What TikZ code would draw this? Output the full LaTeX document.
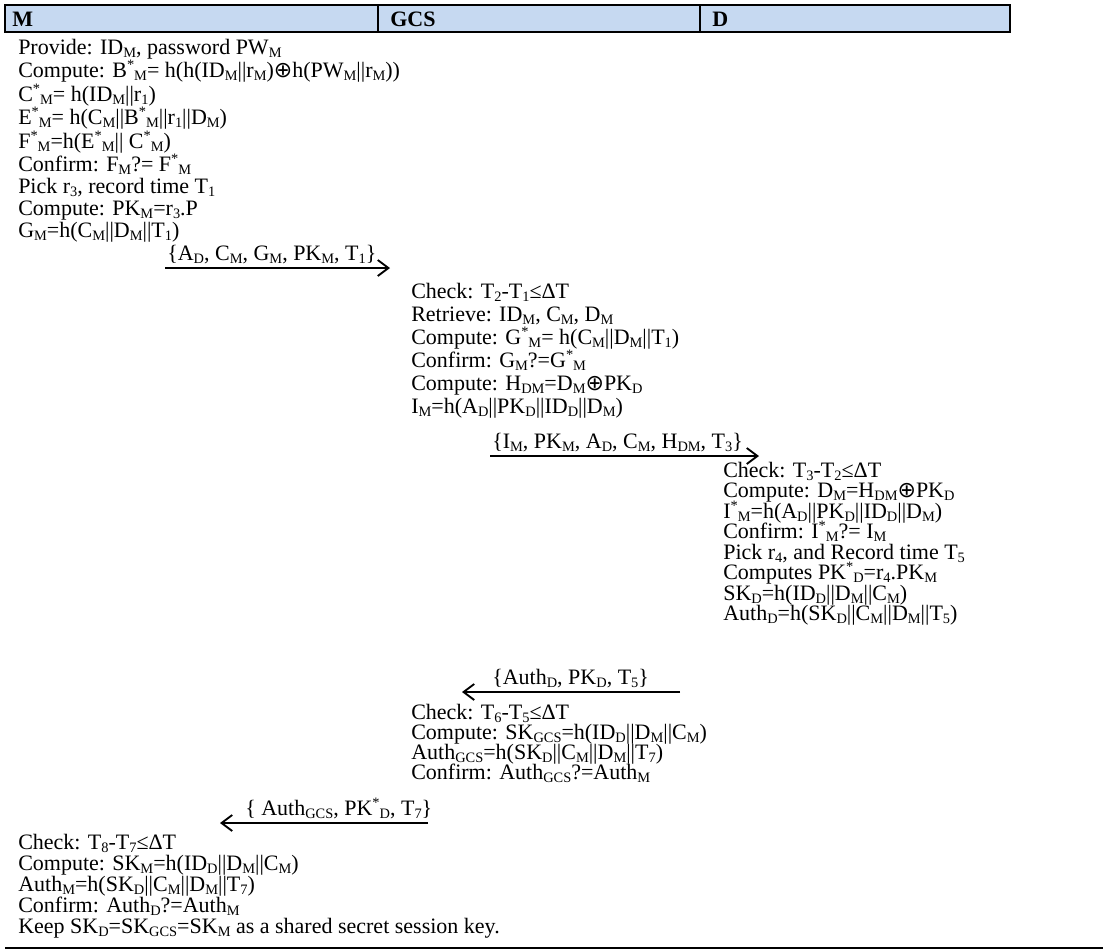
\documentclass[tikz,border=0pt]{standalone}
\usepackage{fontspec}
\setmainfont{Liberation Serif}
\newfontfamily\symfont{DejaVu Sans}
\usetikzlibrary{arrows.meta}
\definecolor{hdrblue}{HTML}{C6D9F1}
\newcommand{\sbs}[1]{\raisebox{-2.4pt}{\fontsize{10.8}{12}\selectfont #1}}
\newcommand{\st}{\raisebox{6pt}{\fontsize{10.8}{12}\selectfont *}}
\newcommand{\xor}{{\symfont ⊕}}

\begin{document}
\begin{tikzpicture}[x=0.75pt,y=-0.75pt,
  txt/.style={anchor=base west,inner sep=0pt,font=\fontsize{16.5}{19}\selectfont},
  hdr/.style={txt,font=\fontsize{16.5}{19}\selectfont\bfseries},
  msgarrow/.style={-{Straight Barb[length=8pt,width=12pt]},line width=1.4pt}]
  \useasboundingbox (0,0) rectangle (1107,951);

  % Header
  \fill[hdrblue] (5,5) rectangle (1010,32);
  \draw[line width=1.2pt] (5,5) rectangle (1010,32);
  \draw[line width=1.2pt] (378,5) -- (378,32);
  \draw[line width=1.2pt] (700,5) -- (700,32);
  \node[hdr] (hM) at (12,26) {M};
  \node[hdr] (hG) at (390,26) {GCS};
  \node[hdr] (hD) at (712,26) {D};

  % M, first part
  \node[txt] (m1) at (18,54) {Provide: ID\sbs{M}, password PW\sbs{M}};
  \node[txt] (m2) at (18,77.5) {Compute: B\st\sbs{M}= h(h(ID\sbs{M}||r\sbs{M})\xor h(PW\sbs{M}||r\sbs{M}))};
  \node[txt] (m3) at (18,101) {C\st\sbs{M}= h(ID\sbs{M}||r\sbs{1})};
  \node[txt] (m4) at (18,124.5) {E\st\sbs{M}= h(C\sbs{M}||B\st\sbs{M}||r\sbs{1}||D\sbs{M})};
  \node[txt] (m5) at (18,148) {F\st\sbs{M}=h(E\st\sbs{M}|| C\st\sbs{M})};
  \node[txt] (m6) at (18,171) {Confirm: F\sbs{M}?= F\st\sbs{M}};
  \node[txt] (m7) at (18,193) {Pick r\sbs{3}, record time T\sbs{1}};
  \node[txt] (m8) at (18,215) {Compute: PK\sbs{M}=r\sbs{3}.P};
  \node[txt] (m9) at (18,237) {G\sbs{M}=h(C\sbs{M}||D\sbs{M}||T\sbs{1})};

  % M -> GCS
  \node[txt] (msgA) at (167,260) {\{A\sbs{D}, C\sbs{M}, G\sbs{M}, PK\sbs{M}, T\sbs{1}\}};
  \coordinate (msgAs) at (165,268);
  \coordinate (msgAe) at (390,268);
  \draw[msgarrow] (msgAs) -- (msgAe);

  % GCS, first part
  \node[txt] (g1) at (411,298) {Check: T\sbs{2}-T\sbs{1}≤ΔT};
  \node[txt] (g2) at (411,321) {Retrieve: ID\sbs{M}, C\sbs{M}, D\sbs{M}};
  \node[txt] (g3) at (411,344) {Compute: G\st\sbs{M}= h(C\sbs{M}||D\sbs{M}||T\sbs{1})};
  \node[txt] (g4) at (411,367) {Confirm: G\sbs{M}?=G\st\sbs{M}};
  \node[txt] (g5) at (411,390) {Compute: H\sbs{DM}=D\sbs{M}\xor PK\sbs{D}};
  \node[txt] (g6) at (411,413) {I\sbs{M}=h(A\sbs{D}||PK\sbs{D}||ID\sbs{D}||D\sbs{M})};

  % GCS -> D
  \node[txt] (msgB) at (492,448) {\{I\sbs{M}, PK\sbs{M}, A\sbs{D}, C\sbs{M}, H\sbs{DM}, T\sbs{3}\}};
  \coordinate (msgBs) at (490,456);
  \coordinate (msgBe) at (759,456);
  \draw[msgarrow] (msgBs) -- (msgBe);

  % D
  \node[txt] (d1) at (723,477) {Check: T\sbs{3}-T\sbs{2}≤ΔT};
  \node[txt] (d2) at (723,497.5) {Compute: D\sbs{M}=H\sbs{DM}\xor PK\sbs{D}};
  \node[txt] (d3) at (723,518) {I\st\sbs{M}=h(A\sbs{D}||PK\sbs{D}||ID\sbs{D}||D\sbs{M})};
  \node[txt] (d4) at (723,538.5) {Confirm: I\st\sbs{M}?= I\sbs{M}};
  \node[txt] (d5) at (723,559) {Pick r\sbs{4}, and Record time T\sbs{5}};
  \node[txt] (d6) at (723,579.5) {Computes PK\st\sbs{D}=r\sbs{4}.PK\sbs{M}};
  \node[txt] (d7) at (723,600) {SK\sbs{D}=h(ID\sbs{D}||D\sbs{M}||C\sbs{M})};
  \node[txt] (d8) at (723,620.5) {Auth\sbs{D}=h(SK\sbs{D}||C\sbs{M}||D\sbs{M}||T\sbs{5})};

  % D -> GCS
  \node[txt] (msgC) at (492,684) {\{Auth\sbs{D}, PK\sbs{D}, T\sbs{5}\}};
  \coordinate (msgCs) at (680,692);
  \coordinate (msgCe) at (462,692);
  \draw[msgarrow] (msgCs) -- (msgCe);

  % GCS, second part
  \node[txt] (g7) at (411,719) {Check: T\sbs{6}-T\sbs{5}≤ΔT};
  \node[txt] (g8) at (411,739) {Compute: SK\sbs{GCS}=h(ID\sbs{D}||D\sbs{M}||C\sbs{M})};
  \node[txt] (g9) at (411,759) {Auth\sbs{GCS}=h(SK\sbs{D}||C\sbs{M}||D\sbs{M}||T\sbs{7})};
  \node[txt] (g10) at (411,779) {Confirm: Auth\sbs{GCS}?=Auth\sbs{M}};

  % GCS -> M
  \node[txt] (msgD) at (245,815) {\{ Auth\sbs{GCS}, PK\st\sbs{D}, T\sbs{7}\}};
  \coordinate (msgDs) at (428,823);
  \coordinate (msgDe) at (220,823);
  \draw[msgarrow] (msgDs) -- (msgDe);

  % M, second part
  \node[txt] (m10) at (18,849) {Check: T\sbs{8}-T\sbs{7}≤ΔT};
  \node[txt] (m11) at (18,870) {Compute: SK\sbs{M}=h(ID\sbs{D}||D\sbs{M}||C\sbs{M})};
  \node[txt] (m12) at (18,891) {Auth\sbs{M}=h(SK\sbs{D}||C\sbs{M}||D\sbs{M}||T\sbs{7})};
  \node[txt] (m13) at (18,912) {Confirm: Auth\sbs{D}?=Auth\sbs{M}};
  \node[txt] (m14) at (18,933) {Keep SK\sbs{D}=SK\sbs{GCS}=SK\sbs{M} as a shared secret session key.};

  \draw[line width=0.8pt] (5,948) -- (1103,948);
\end{tikzpicture}
\end{document}
